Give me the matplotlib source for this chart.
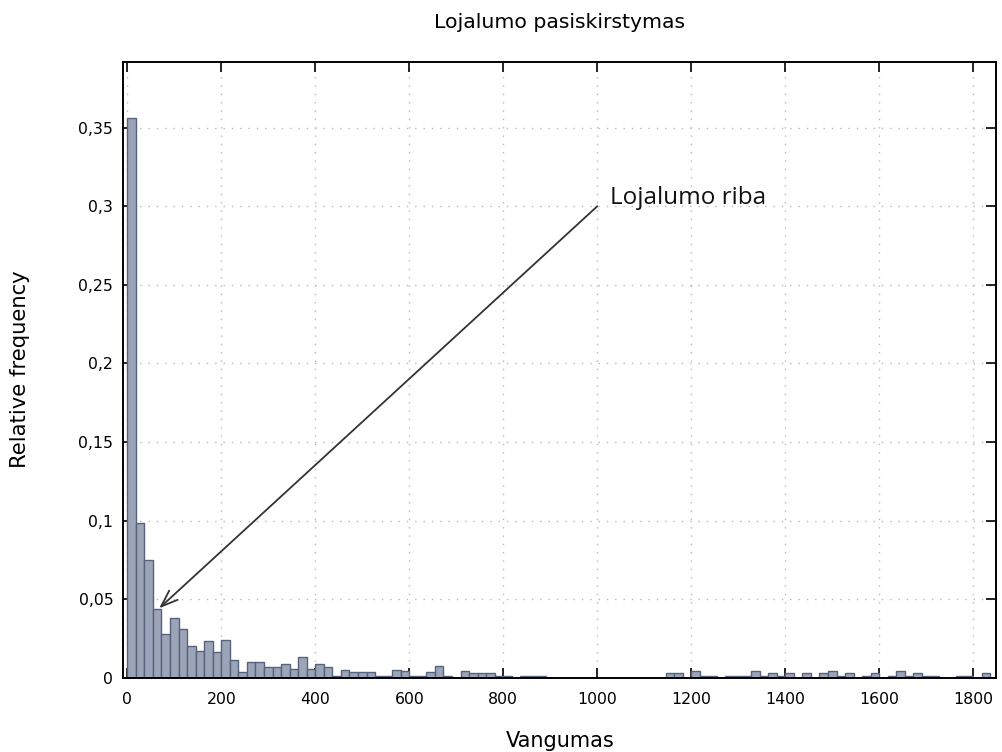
import numpy as np
import matplotlib
matplotlib.use("Agg")
import matplotlib.pyplot as plt

# ---- data ----
bin_width = 200 / 11
rel_freq = [
    0.356, 0.0985, 0.0748, 0.044, 0.0275, 0.0379, 0.0307, 0.0203, 0.0173, 0.0232,
    0.0162, 0.0243, 0.0111, 0.0037, 0.0099, 0.0099, 0.0069, 0.0069, 0.009, 0.0058,
    0.0133, 0.0058, 0.009, 0.0069, 0.0012, 0.0048, 0.0035, 0.0035, 0.0035, 0.0012,
    0.0012, 0.0048, 0.004, 0.0012, 0.0012, 0.0035, 0.0073, 0.0012, 0.0, 0.0042,
    0.003, 0.003, 0.003, 0.0012, 0.0012, 0.0, 0.0012, 0.0012, 0.0012, 0.0,
    0.0, 0.0, 0.0, 0.0, 0.0, 0.0, 0.0, 0.0, 0.0, 0.0,
    0.0, 0.0, 0.0, 0.003, 0.003, 0.0, 0.004, 0.0012, 0.0012, 0.0,
    0.0012, 0.0012, 0.0012, 0.004, 0.0012, 0.003, 0.0012, 0.003, 0.0, 0.003,
    0.0, 0.003, 0.004, 0.0012, 0.003, 0.0, 0.0012, 0.003, 0.0, 0.0012,
    0.004, 0.0012, 0.003, 0.0012, 0.0012, 0.0, 0.0, 0.0012, 0.0012, 0.0,
    0.003,
]
x_ticks = [0, 200, 400, 600, 800, 1000, 1200, 1400, 1600, 1800]
y_ticks = [0, 0.05, 0.1, 0.15, 0.2, 0.25, 0.3, 0.35]
y_tick_labels = ["0", "0,05", "0,1", "0,15", "0,2", "0,25", "0,3", "0,35"]
title = "Lojalumo pasiskirstymas"
x_label = "Vangumas"
y_label = "Relative frequency"
annot_text = "Lojalumo riba"
annot_tail = (1000, 0.3)
annot_head = (68, 0.0442)

plt.rcParams['font.family'] = ['DejaVu Sans']

fig = plt.figure(figsize=(10.03, 7.52), dpi=100)
ax = fig.add_axes([123 / 1003, 1 - 677.7 / 752, (995.7 - 123) / 1003, (677.7 - 62) / 752])

lefts = np.arange(len(rel_freq)) * bin_width
ax.bar(lefts, rel_freq, width=bin_width, align='edge',
       color='#9ca4b8', edgecolor='#56627e', linewidth=1.0, zorder=3)

ax.set_xlim(-9.1, 1847.7)
ax.set_ylim(0, 0.3918)
ax.set_xticks(x_ticks)
ax.set_xticklabels([str(t) for t in x_ticks])
ax.set_yticks(y_ticks)
ax.set_yticklabels(y_tick_labels)

ax.grid(True, color='#b8b8b8', linestyle=(0, (1, 5)), linewidth=1.0, zorder=0)
ax.tick_params(direction='in', length=7, width=1.2, top=True, right=True,
               labelsize=11.3, colors='black')
ax.tick_params(axis='x', pad=10)
ax.tick_params(axis='y', pad=7)
for s in ax.spines.values():
    s.set_linewidth(1.4)
    s.set_zorder(5)

fig.text(560 / 1003, 1 - 22 / 752, title, ha='center', va='center', fontsize=14.7)
fig.text(560 / 1003, 1 - 741 / 752, x_label, ha='center', va='center', fontsize=15)
fig.text(20 / 1003, 1 - 369 / 752, y_label, ha='center', va='center',
         rotation=90, fontsize=15.2)

ax.annotate('', xy=annot_head, xytext=annot_tail,
            arrowprops=dict(arrowstyle='->,head_length=1.2,head_width=0.45',
                            color='#333333', lw=1.3, shrinkA=0, shrinkB=0),
            zorder=6)
ax.text(1027, 0.3055, annot_text, ha='left', va='center', fontsize=17.5,
        family=['Open Sans', 'DejaVu Sans'], color='#111111', zorder=6)

fig.savefig('out.png', dpi=100)
